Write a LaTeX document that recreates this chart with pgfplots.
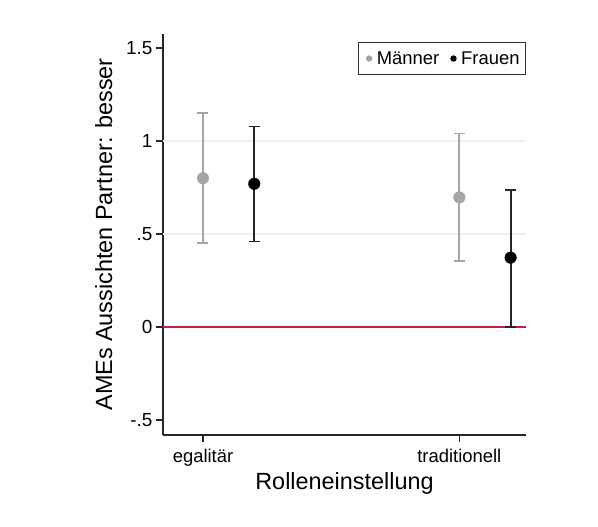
\documentclass[border=0pt]{standalone}
\usepackage{fontspec}
\setmainfont{Liberation Sans}
\usepackage{pgfplots}
\pgfplotsset{compat=1.18}
\definecolor{mgray}{RGB}{165,165,165}
\definecolor{zeroline}{RGB}{200,30,70}
\definecolor{gridc}{RGB}{234,241,243}

\begin{document}
\begin{tikzpicture}
\begin{axis}[
  at={(0,0)}, anchor=south west,
  scale only axis,
  width=363bp, height=401bp,
  xmin=0.844, xmax=2.26,
  ymin=-0.58, ymax=1.575,
  axis x line*=bottom, axis y line*=left,
  axis line style={line width=1.3bp, black!85},
  tick align=outside,
  major tick length=7bp,
  tick style={line width=1.3bp, black!85},
  xtick={1,2}, xticklabels={egalitär,traditionell},
  ytick={-0.5,0,0.5,1,1.5}, yticklabels={-.5,0,.5,1,1.5},
  yticklabel style={font=\fontsize{19}{22}\selectfont},
  xticklabel style={font=\fontsize{18.5}{22}\selectfont, yshift=-4bp},
  xlabel={Rolleneinstellung},
  ylabel={AMEs Aussichten Partner: besser},
  label style={font=\fontsize{23.5}{28}\selectfont},
  xlabel style={yshift=1bp},
  ylabel style={yshift=7bp},
  legend columns=2,
  legend style={at={(1,1)}, anchor=north east, yshift=-8bp,
    draw=black!80, line width=0.9bp, inner xsep=4bp, inner ysep=7bp,
    font=\fontsize{18.5}{22}\selectfont,
    /tikz/every even column/.append style={column sep=6bp}},
  legend image code/.code={\path[draw=none, fill=none] (0,0) -- (0.42cm,0);
    \fill[#1, draw=none] (0.22cm,0) circle (3.2bp);},
  clip=false,
]
\draw[gridc, line width=1.2bp] (axis cs:0.844,0.5) -- (axis cs:2.26,0.5);
\draw[gridc, line width=1.2bp] (axis cs:0.844,1) -- (axis cs:2.26,1);
\draw[zeroline, line width=1.3bp] (axis cs:0.844,0) -- (axis cs:2.26,0);

\addplot[only marks, mark=*, mark size=5.8bp, color=mgray,
  error bars/.cd, y dir=both, y explicit,
  error bar style={line width=1.8bp, mgray},
  error mark options={rotate=90, mark size=5.5bp, line width=1.8bp, mgray}]
  table[x=x, y=y, y error plus=ep, y error minus=em] {
  x     y      ep     em
  1.0   0.800  0.350  0.350
  2.0   0.697  0.343  0.344
};
\addlegendentry{Männer}

\addplot[only marks, mark=*, mark size=5.8bp, color=black,
  error bars/.cd, y dir=both, y explicit,
  error bar style={line width=1.8bp, black!85},
  error mark options={rotate=90, mark size=5.5bp, line width=1.8bp, black!85}]
  table[x=x, y=y, y error plus=ep, y error minus=em] {
  x     y      ep     em
  1.2   0.770  0.308  0.310
  2.2   0.373  0.365  0.373
};
\addlegendentry{Frauen}
\end{axis}
\pgfresetboundingbox
\path[use as bounding box] (-163bp,-92bp) rectangle (435bp,435bp);
\end{tikzpicture}
\end{document}
